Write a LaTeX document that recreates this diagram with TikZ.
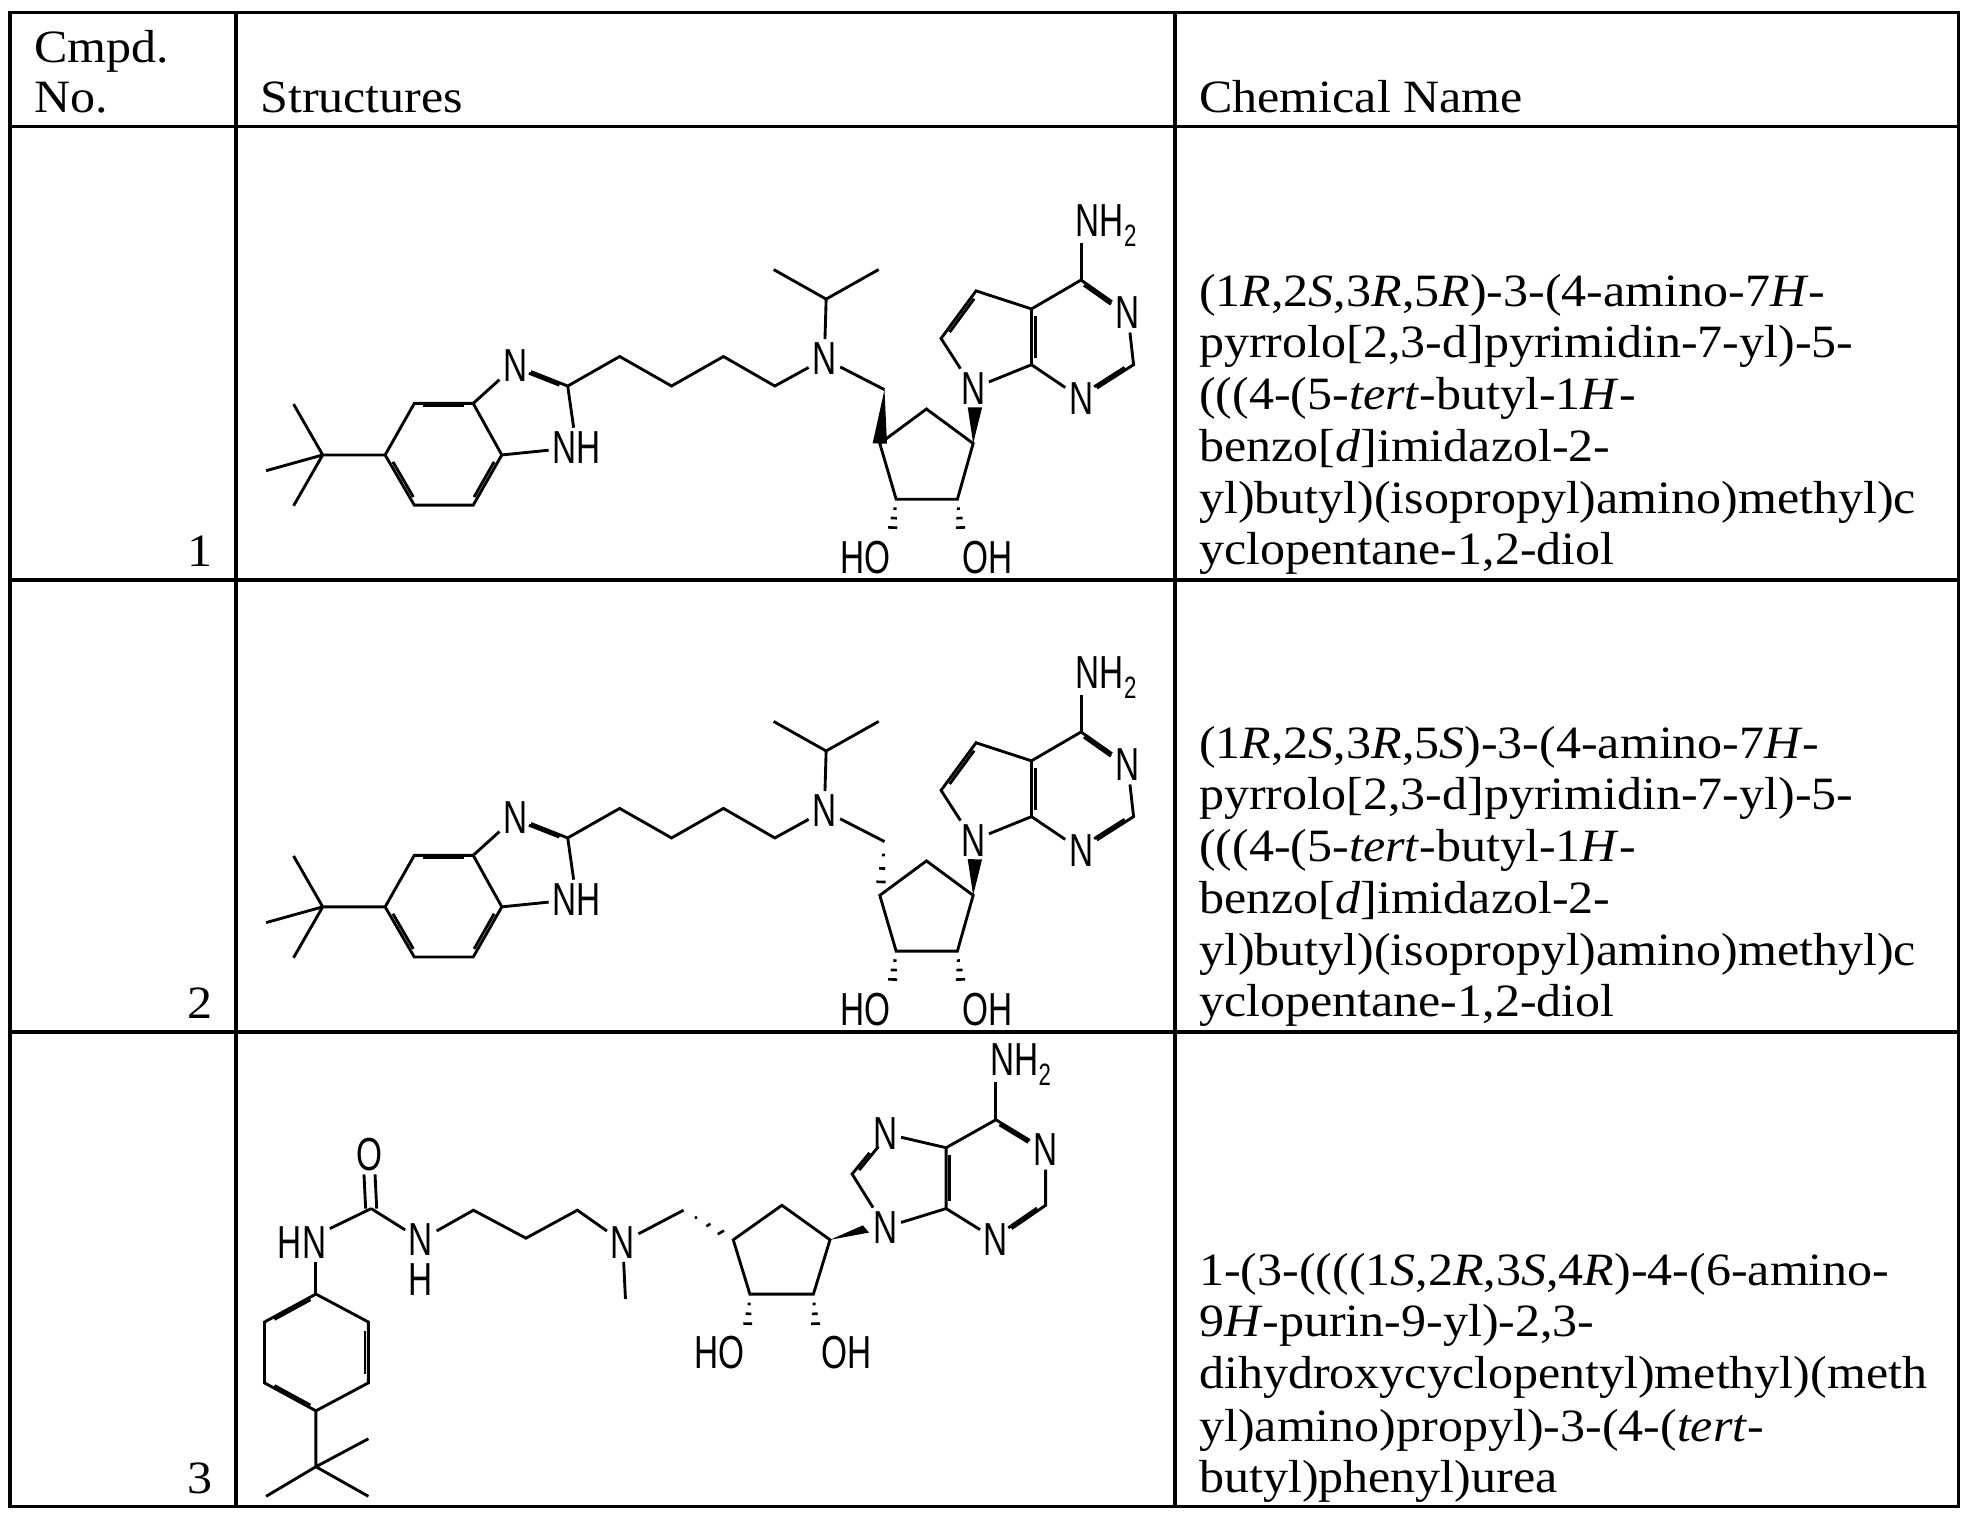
\documentclass[tikz,border=0pt]{standalone}
\usepackage{fontspec}
\setmainfont{Liberation Serif}
\setsansfont{Liberation Sans}
\usetikzlibrary{calc}
\newcommand\lb[1]{\scalebox{0.72}[1]{#1}}
\newcommand\tx[1]{\scalebox{1.08}[1]{#1}}
\newcommand\nhtwo{\lb{NH\raisebox{-0.4ex}{\fontsize{14}{14}\selectfont 2}}}
\tikzset{
 lab/.style={font=\sffamily\fontsize{21}{21}\selectfont, inner sep=1.5pt},
 txt/.style={font=\fontsize{21}{23}\selectfont, inner sep=0pt, anchor=base west},
 num/.style={font=\fontsize{21}{23}\selectfont, inner sep=0pt, anchor=base east},
 bond/.style={line width=1.3pt},
 rule/.style={line width=1.5pt}
}
\newcommand\hashb[3]{% narrow at #1, wide at #2
 \foreach \t in {0.25,0.5,0.75,1.0}{\draw[line width=1.2pt] ($(#1)!\t!(#2)!{\t*#3}!90:(#2)$) -- ($(#1)!\t!(#2)!{\t*#3}!-90:(#2)$);}}
\newcommand\wedgeb[3]{\fill (#1) -- ($(#2)!#3!90:(#1)$) -- ($(#2)!#3!-90:(#1)$) -- cycle;}
\newcommand\dbi[5]{% a b ctr fa fb
 \coordinate (ff) at ($(#1)!(#3)!(#2)$);
 \coordinate (fo) at ($(ff)!3.5pt!(#3)$);
 \draw[bond] ($(#1)!#4!(#2) + (fo) - (ff)$) -- ($(#2)!#5!(#1) + (fo) - (ff)$);}
\newcommand\strucA[1]{%
 \coordinate (tc) at (125,795); \coordinate (m1) at (75,640); \coordinate (m2) at (28,843); \coordinate (m3) at (75,950);
 \coordinate (b1) at (232,795); \coordinate (b2) at (282,638); \coordinate (b3) at (383,638);
 \coordinate (b4) at (432,795); \coordinate (b5) at (383,948); \coordinate (b6) at (282,948);
 \coordinate (bc) at (332,793); \coordinate (ic) at (450,700);
 \node[lab] (Nim) at (455,522) {\lb{N}};
 \node[lab] (NH) at (560,772) {\lb{NH}};
 \coordinate (c2) at (545,585);
 \coordinate (k1) at (634,495); \coordinate (k2) at (723,585); \coordinate (k3) at (812,495); \coordinate (k4) at (900,585);
 \node[lab] (NA) at (985,502) {\lb{N}};
 \coordinate (ip) at (988,320); \coordinate (i1) at (898,230); \coordinate (i2) at (1078,230);
 \coordinate (ch2) at (1088,596);
 \coordinate (r1) at (1080,760); \coordinate (r2) at (1160,655); \coordinate (r3) at (1240,760);
 \coordinate (r4) at (1213,930); \coordinate (r5) at (1108,930);
 \node[lab] (N7) at (1240,592) {\lb{N}};
 \coordinate (w7) at (1243,650);
 \coordinate (p1) at (1185,440); \coordinate (p2) at (1245,295); \coordinate (p3) at (1340,350); \coordinate (p4) at (1340,520);
 \coordinate (pc) at (1270,440); \coordinate (qc) at (1425,440);
 \coordinate (c4) at (1425,262);
 \node[lab] (N3) at (1505,362) {\lb{N}};
 \coordinate (c2b) at (1515,520);
 \node[lab] (N1) at (1425,622) {\lb{N}};
 \node[lab] (NH2) at (1468,97) {\nhtwo};
 \coordinate (nb) at (1425,150);
 \coordinate (o1) at (1100,1045); \coordinate (o2) at (1220,1045);
 \node[lab] (HO) at (1055,1107) {\lb{HO}};
 \node[lab] (OH) at (1265,1107) {\lb{OH}};
 \draw[bond] (tc)--(m1) (tc)--(m2) (tc)--(m3) (tc)--(b1);
 \draw[bond] (b1)--(b2)--(b3)--(b4)--(b5)--(b6)--cycle;
 \dbi{b2}{b3}{bc}{0.15}{0.15} \dbi{b4}{b5}{bc}{0.15}{0.15} \dbi{b6}{b1}{bc}{0.15}{0.15}
 \draw[bond] (b3)--(Nim) (Nim)--(c2) (c2)--(NH) (NH)--(b4);
 \dbi{Nim}{c2}{ic}{0.3}{0.12}
 \draw[bond] (c2)--(k1)--(k2)--(k3)--(k4)--(NA);
 \draw[bond] (NA)--(ip) (ip)--(i1) (ip)--(i2);
 \draw[bond] (NA)--(ch2);
 #1
 \draw[bond] (r1)--(r2)--(r3)--(r4)--(r5)--cycle;
 \wedgeb{r3}{w7}{7pt}
 \draw[bond] (N7)--(p1)--(p2)--(p3)--(p4)--(N7);
 \dbi{p1}{p2}{pc}{0.15}{0.15} \dbi{p3}{p4}{qc}{0.12}{0.12}
 \draw[bond] (p3)--(c4)--(N3)--(c2b)--(N1)--(p4);
 \dbi{c4}{N3}{qc}{0.12}{0.3} \dbi{c2b}{N1}{qc}{0.12}{0.3}
 \draw[bond] (c4)--(nb);
 \hashb{r5}{o1}{6pt} \hashb{r4}{o2}{6pt}
}
\begin{document}
\begin{tikzpicture}[x=0.02cm,y=-0.02cm]
\useasboundingbox (0,0) rectangle (1567,1211);
% table
\draw[rule] (8,10) rectangle (1560,1200);
\draw[rule] (188,10)--(188,1200) (936,10)--(936,1200);
\draw[rule] (8,101)--(1560,101) (8,462)--(1560,462) (8,822)--(1560,822);
% header
\node[txt] (h1) at (27,50) {\tx{Cmpd.}};
\node[txt] (h2) at (27,90) {\tx{No.}};
\node[txt] (h3) at (207,90) {\tx{Structures}};
\node[txt] (h4) at (955,90) {\tx{Chemical Name}};
% numbers
\node[num] (n1) at (170,451) {\tx{1}};
\node[num] (n2) at (170,811) {\tx{2}};
\node[num] (n3) at (170,1190) {\tx{3}};
% names
\node[txt] (a1) at (955,244) {\tx{(1\textit{R},2\textit{S},3\textit{R},5\textit{R})-3-(4-amino-7\textit{H}-}};
\node[txt] (a2) at (955,285) {\tx{pyrrolo[2,3-d]pyrimidin-7-yl)-5-}};
\node[txt] (a3) at (955,326) {\tx{(((4-(5-\textit{tert}-butyl-1\textit{H}-}};
\node[txt] (a4) at (955,368) {\tx{benzo[\textit{d}]imidazol-2-}};
\node[txt] (a5) at (955,409) {\tx{yl)butyl)(isopropyl)amino)methyl)c}};
\node[txt] (a6) at (955,450) {\tx{yclopentane-1,2-diol}};
\node[txt] (b1) at (955,604) {\tx{(1\textit{R},2\textit{S},3\textit{R},5\textit{S})-3-(4-amino-7\textit{H}-}};
\node[txt] (b2) at (955,645) {\tx{pyrrolo[2,3-d]pyrimidin-7-yl)-5-}};
\node[txt] (b3) at (955,686) {\tx{(((4-(5-\textit{tert}-butyl-1\textit{H}-}};
\node[txt] (b4) at (955,728) {\tx{benzo[\textit{d}]imidazol-2-}};
\node[txt] (b5) at (955,769) {\tx{yl)butyl)(isopropyl)amino)methyl)c}};
\node[txt] (b6) at (955,810) {\tx{yclopentane-1,2-diol}};
\node[txt] (c1) at (955,1024) {\tx{1-(3-((((1\textit{S},2\textit{R},3\textit{S},4\textit{R})-4-(6-amino-}};
\node[txt] (c2) at (955,1065) {\tx{9\textit{H}-purin-9-yl)-2,3-}};
\node[txt] (c3) at (955,1106) {\tx{dihydroxycyclopentyl)methyl)(meth}};
\node[txt] (c4) at (955,1148) {\tx{yl)amino)propyl)-3-(4-(\textit{tert}-}};
\node[txt] (c5) at (955,1189) {\tx{butyl)phenyl)urea}};
% structure 1
\begin{scope}[shift={(199,154.6)},xscale=0.4647,yscale=0.2614]
\strucA{\wedgeb{ch2}{r1}{7pt}}
\end{scope}
% structure 2
\begin{scope}[shift={(199,514.6)},xscale=0.4647,yscale=0.2614]
\strucA{\hashb{ch2}{r1}{6pt}}
\end{scope}
% structure 3
\begin{scope}[shift={(196.6,834.4)},xscale=0.4404,yscale=0.262]
 \coordinate (uc) at (225,490);
 \node[lab] (O) at (222,325) {\lb{O}};
 \node[lab] (HN) at (100,592) {\lb{HN}};
 \node[lab] (Np) at (315,585) {\lb{N}};
 \node[lab] (Hp) at (315,705) {\lb{H}};
 \coordinate (q1) at (410,495); \coordinate (q2) at (505,580); \coordinate (q3) at (598,495);
 \node[lab] (NM) at (680,592) {\lb{N}};
 \coordinate (me) at (685,765);
 \coordinate (ch) at (790,495);
 \coordinate (s1) at (880,585); \coordinate (s2) at (968,480); \coordinate (s3) at (1055,585);
 \coordinate (s4) at (1025,750); \coordinate (s5) at (910,750);
 \node[lab] (N9) at (1155,547) {\lb{N}};
 \coordinate (w9) at (1120,552);
 \coordinate (c8) at (1095,385);
 \node[lab] (N7) at (1155,262) {\lb{N}};
 \coordinate (c5) at (1265,305); \coordinate (c4) at (1265,490); \coordinate (c6) at (1355,220);
 \node[lab] (N1) at (1445,312) {\lb{N}};
 \coordinate (c2) at (1445,480);
 \node[lab] (N3) at (1355,584) {\lb{N}};
 \node[lab] (NH2) at (1400,52) {\nhtwo};
 \coordinate (nb) at (1355,105);
 \coordinate (ic) at (1190,420); \coordinate (qc) at (1355,400);
 \coordinate (o1) at (905,870); \coordinate (o2) at (1030,870);
 \node[lab] (HO) at (855,927) {\lb{HO}};
 \node[lab] (OH) at (1085,927) {\lb{OH}};
 \coordinate (a1) at (125,750); \coordinate (a2) at (220,835); \coordinate (a3) at (220,1020);
 \coordinate (a4) at (125,1105); \coordinate (a5) at (32,1020); \coordinate (a6) at (32,835);
 \coordinate (ac) at (125,928);
 \coordinate (tq) at (125,1275); \coordinate (t1) at (220,1190); \coordinate (t2) at (35,1365); \coordinate (t3) at (220,1365);
 \draw[bond] ($(uc)+(-10,0)$) -- ($(O.south)+(-10,0)$) ($(uc)+(10,0)$) -- ($(O.south)+(10,0)$);
 \draw[bond] (uc)--(HN) (uc)--(Np);
 \draw[bond] (Np)--(q1)--(q2)--(q3)--(NM) (NM)--(me) (NM)--(ch);
 \hashb{ch}{s1}{6pt}
 \draw[bond] (s1)--(s2)--(s3)--(s4)--(s5)--cycle;
 \wedgeb{s3}{w9}{7pt}
 \draw[bond] (N9)--(c8)--(N7)--(c5)--(c4)--(N9);
 \dbi{c8}{N7}{ic}{0.12}{0.3} \dbi{c5}{c4}{qc}{0.12}{0.12}
 \draw[bond] (c5)--(c6)--(N1)--(c2)--(N3)--(c4);
 \dbi{c6}{N1}{qc}{0.12}{0.3} \dbi{c2}{N3}{qc}{0.12}{0.3}
 \draw[bond] (c6)--(nb);
 \hashb{s5}{o1}{6pt} \hashb{s4}{o2}{6pt}
 \draw[bond] (a1 |- HN.south)--(a1);
 \draw[bond] (a1)--(a2)--(a3)--(a4)--(a5)--(a6)--cycle;
 \dbi{a6}{a1}{ac}{0.15}{0.15} \dbi{a2}{a3}{ac}{0.15}{0.15} \dbi{a4}{a5}{ac}{0.15}{0.15}
 \draw[bond] (a4)--(tq) (tq)--(t1) (tq)--(t2) (tq)--(t3);
\end{scope}
\end{tikzpicture}
\end{document}
